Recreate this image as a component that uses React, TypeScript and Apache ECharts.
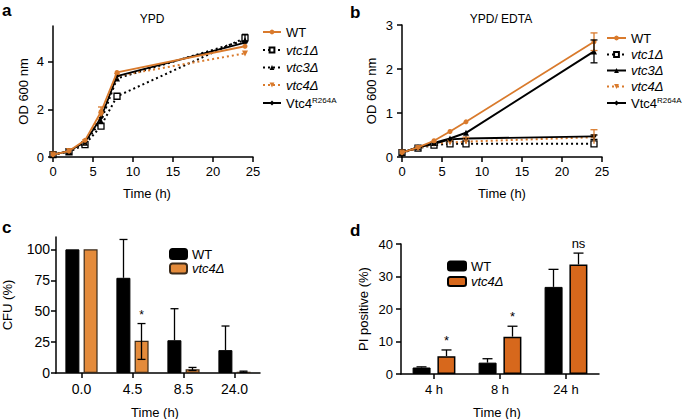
import React, { useEffect, useRef } from "react";
import * as echarts from "echarts";

// ---------- data ----------
const timeA = [0, 2, 4, 6, 8, 24];
const aWT = [0.1, 0.25, 0.7, 1.9, 3.55, 4.65];
const aVtc1 = [0.1, 0.22, 0.52, 1.3, 2.55, 5.0];
const aVtc3 = [0.1, 0.25, 0.6, 1.5, 3.3, 4.9];
const aVtc4 = [0.1, 0.25, 0.62, 1.75, 3.4, 4.35];
const aR264A = [0.1, 0.25, 0.62, 1.65, 3.4, 4.8];
const aErrWT = [[6, 1.7, 2.1]];
const aErrVtc1 = [[24, 4.85, 5.15]];

const timeB = [0, 2, 4, 6, 8, 24];
const bWT = [0.1, 0.22, 0.37, 0.58, 0.8, 2.62];
const bVtc1 = [0.1, 0.2, 0.27, 0.3, 0.3, 0.3];
const bVtc3 = [0.1, 0.22, 0.32, 0.42, 0.55, 2.4];
const bVtc4 = [0.1, 0.2, 0.3, 0.33, 0.35, 0.45];
const bR264A = [0.1, 0.22, 0.3, 0.4, 0.42, 0.47];
const bErrWT = [[24, 2.42, 2.82]];
const bErrBlack = [[24, 2.14, 2.66], [24, 0.4, 0.5]];
const bErrVtc4 = [[24, 0.3, 0.62], [8, 0.3, 0.45]];

const cCats = ["0.0", "4.5", "8.5", "24.0"];
const cWT = [100, 77, 26.5, 18.5];
const cWTHigh = [100, 108, 52, 38];
const cVtc4 = [100, 26, 3, 1];
const cVtc4Low = [100, 11, 2, 0.5];
const cVtc4High = [100, 40, 4.5, 1.5];
const cMarks = ["", "*", "", ""];

const dCats = ["4 h", "8 h", "24 h"];
const dWT = [2, 3.5, 26.8];
const dWTHigh = [2.2, 4.7, 32.2];
const dVtc4 = [5.5, 11.5, 33.7];
const dVtc4High = [7.4, 14.7, 37.2];
const dMarks = ["*", "*", "ns"];

const xTitle = "Time (h)";

// ---------- styles ----------
const FONT = "'Liberation Sans', Arial, Helvetica, sans-serif";
const ORANGE = "#D97A2C";
const ORANGE_C = "#E48B3B";
const ORANGE_D = "#D7681C";
const INV_TRI = "path://M0,0 L10,0 L5,9 Z";

function errorBars(color: string, offset: number, cap: number, both: boolean) {
  return (params: any, api: any) => {
    const x = api.value(0);
    const lo = api.value(1);
    const hi = api.value(2);
    const p1 = api.coord([x, lo]);
    const p2 = api.coord([x, hi]);
    const cx = p1[0] + offset;
    const st = { stroke: color, lineWidth: 1.3 };
    const children: any[] = [
      { type: "line", shape: { x1: cx, y1: p1[1], x2: cx, y2: p2[1] }, style: st },
      { type: "line", shape: { x1: cx - cap, y1: p2[1], x2: cx + cap, y2: p2[1] }, style: st },
    ];
    if (both) {
      children.push({ type: "line", shape: { x1: cx - cap, y1: p1[1], x2: cx + cap, y2: p1[1] }, style: st });
    }
    return { type: "group", children };
  };
}

function markText(texts: string[], offset: number, size: number) {
  return (params: any, api: any) => {
    const p = api.coord([api.value(0), api.value(1)]);
    return {
      type: "text",
      style: {
        text: texts[params.dataIndex],
        x: p[0] + offset,
        y: p[1] - 3,
        fill: "#000",
        font: `${size}px ${FONT}`,
        align: "center",
        verticalAlign: "bottom",
      },
    };
  };
}

const axisBase = {
  axisLine: { show: true, lineStyle: { color: "#000", width: 1.5 } },
  axisTick: { show: true, length: 5, lineStyle: { color: "#000", width: 1.5 } },
  axisLabel: { color: "#000", fontSize: 13, fontFamily: FONT, fontWeight: "normal", margin: 8 },
  splitLine: { show: false },
  nameMoveOverlap: false,
  nameTextStyle: { color: "#000", fontSize: 13, fontFamily: FONT, fontWeight: "normal" },
};

function lineSeries(name: string, grid: number, xs: number[], ys: number[], opts: any) {
  return {
    type: "line",
    name,
    xAxisIndex: grid,
    yAxisIndex: grid,
    data: xs.map((x, i) => [x, ys[i]]),
    symbol: opts.symbol,
    symbolSize: opts.size,
    showSymbol: true,
    lineStyle: { color: opts.color, width: opts.width ?? 1.8, type: opts.dash ?? "solid" },
    itemStyle: { color: opts.fill ?? opts.color, borderColor: opts.color, borderWidth: opts.border ?? 0 },
    z: opts.z ?? 2,
  };
}

function legendFormatter(name: string) {
  const n = name.split(":")[1];
  if (n === "WT") return "{n|WT}";
  if (n === "Vtc4R264A") return "{n|Vtc4}{s|R264A}";
  return "{i|" + n + "}";
}

const legendText = {
  color: "#000",
  fontFamily: FONT,
  fontSize: 13,
  fontWeight: "normal",
  rich: {
    n: { fontSize: 13, fontFamily: FONT, fontWeight: "normal", color: "#000", lineHeight: 14, verticalAlign: "bottom" },
    i: { fontSize: 13, fontFamily: FONT, fontWeight: "normal", color: "#000", fontStyle: "italic", lineHeight: 14 },
    s: { fontSize: 8, fontFamily: FONT, fontWeight: "normal", color: "#000", verticalAlign: "top", lineHeight: 8 },
  },
};

function panelSeries(p: string, grid: number, xs: number[], wt: number[], v1: number[], v3: number[], v4: number[], r: number[], v3Dash: any) {
  return [
    lineSeries(p + ":vtc1Δ", grid, xs, v1, { symbol: "rect", size: 6, color: "#000", fill: "#fff", border: 1.3, dash: [2, 3], width: 2 }),
    lineSeries(p + ":vtc3Δ", grid, xs, v3, { symbol: "triangle", size: 6, color: "#000", dash: v3Dash, width: 2 }),
    lineSeries(p + ":vtc4Δ", grid, xs, v4, { symbol: INV_TRI, size: 6, color: ORANGE, dash: [2, 3], width: 2 }),
    lineSeries(p + ":Vtc4R264A", grid, xs, r, { symbol: "diamond", size: 5, color: "#000", width: 1.8 }),
    lineSeries(p + ":WT", grid, xs, wt, { symbol: "circle", size: 5, color: ORANGE, width: 1.8, z: 3 }),
  ];
}

const lineLegendNames = (p: string) => [p + ":WT", p + ":vtc1Δ", p + ":vtc3Δ", p + ":vtc4Δ", p + ":Vtc4R264A"];

const titleText = (x: number, y: number, text: string, size: number) => ({
  type: "text",
  x,
  y,
  style: { text, font: `normal ${size}px ${FONT}`, fill: "#000", align: "center", verticalAlign: "middle" },
});

function buildOption(): any {
  return {
    animation: false,
    backgroundColor: "#fff",
    textStyle: { fontFamily: FONT, fontWeight: "normal" },
    grid: [
      { left: 53, top: 26, width: 200, height: 131 },
      { left: 402, top: 25, width: 200, height: 132 },
      { left: 56, top: 237, width: 204, height: 136 },
      { left: 401, top: 244, width: 198, height: 130 },
    ],
    xAxis: [
      { ...axisBase, gridIndex: 0, type: "value", min: 0, max: 25, interval: 5 },
      { ...axisBase, gridIndex: 1, type: "value", min: 0, max: 25, interval: 5 },
      { ...axisBase, gridIndex: 2, type: "category", data: cCats, axisTick: { ...axisBase.axisTick, alignWithLabel: true }, axisLabel: { ...axisBase.axisLabel, fontSize: 14, margin: 9 } },
      { ...axisBase, gridIndex: 3, type: "category", data: dCats, axisTick: { ...axisBase.axisTick, alignWithLabel: true }, axisLabel: { ...axisBase.axisLabel, margin: 9 } },
    ],
    yAxis: [
      { ...axisBase, gridIndex: 0, type: "value", min: 0, max: 5.5, axisLabel: { ...axisBase.axisLabel, margin: 9, customValues: [0, 2, 4] }, axisTick: { ...axisBase.axisTick, customValues: [0, 2, 4] }, name: "OD 600 nm", nameLocation: "middle", nameGap: 23 },
      { ...axisBase, gridIndex: 1, type: "value", min: 0, max: 3, interval: 1, axisLabel: { ...axisBase.axisLabel, margin: 9 }, name: "OD 600 nm", nameLocation: "middle", nameGap: 24 },
      { ...axisBase, gridIndex: 2, type: "value", min: 0, max: 110, axisLabel: { ...axisBase.axisLabel, fontSize: 14, margin: 6, customValues: [0, 25, 50, 75, 100] }, axisTick: { ...axisBase.axisTick, customValues: [0, 25, 50, 75, 100] }, name: "CFU (%)", nameLocation: "middle", nameGap: 42 },
      { ...axisBase, gridIndex: 3, type: "value", min: 0, max: 40, interval: 10, axisLabel: { ...axisBase.axisLabel, margin: 8 }, name: "PI positive (%)", nameLocation: "middle", nameGap: 31 },
    ],
    legend: [
      { data: lineLegendNames("a"), left: 257, top: 21, orient: "vertical", itemWidth: 18, itemHeight: 6, itemGap: 4.5, formatter: legendFormatter, textStyle: legendText, selectedMode: false },
      { data: lineLegendNames("b"), left: 601, top: 27, orient: "vertical", itemWidth: 19, itemHeight: 6, itemGap: 3, formatter: legendFormatter, textStyle: legendText, selectedMode: false },
      { data: ["c:WT", "c:vtc4Δ"], left: 164, top: 243, orient: "vertical", itemWidth: 17, itemHeight: 10, itemGap: 1, formatter: legendFormatter, textStyle: legendText, selectedMode: false },
      { data: ["d:WT", "d:vtc4Δ"], left: 442, top: 255, orient: "vertical", itemWidth: 18, itemHeight: 9, itemGap: 2, formatter: legendFormatter, textStyle: legendText, selectedMode: false },
    ],
    graphic: [
      { type: "text", left: 2, top: 2, style: { text: "a", font: `bold 17px ${FONT}`, fill: "#000" } },
      { type: "text", left: 350, top: 4, style: { text: "b", font: `bold 17px ${FONT}`, fill: "#000" } },
      { type: "text", left: 2, top: 219, style: { text: "c", font: `bold 17px ${FONT}`, fill: "#000" } },
      { type: "text", left: 350, top: 222, style: { text: "d", font: `bold 17px ${FONT}`, fill: "#000" } },
      titleText(152, 19, "YPD", 12),
      titleText(501, 19, "YPD/ EDTA", 12),
      titleText(147, 193, xTitle, 13),
      titleText(502, 193, xTitle, 13),
      titleText(155, 412, xTitle, 13),
      titleText(497, 412, xTitle, 13),
    ],
    series: [
      ...panelSeries("a", 0, timeA, aWT, aVtc1, aVtc3, aVtc4, aR264A, [2, 3]),
      { type: "custom", xAxisIndex: 0, yAxisIndex: 0, z: 4, data: aErrWT, renderItem: errorBars(ORANGE, 0, 3, false) },
      { type: "custom", xAxisIndex: 0, yAxisIndex: 0, z: 4, data: aErrVtc1, renderItem: errorBars("#000", 0, 3, true) },
      ...panelSeries("b", 1, timeB, bWT, bVtc1, bVtc3, bVtc4, bR264A, "solid"),
      { type: "custom", xAxisIndex: 1, yAxisIndex: 1, z: 4, data: bErrWT, renderItem: errorBars(ORANGE, 0, 3.5, true) },
      { type: "custom", xAxisIndex: 1, yAxisIndex: 1, z: 4, data: bErrBlack, renderItem: errorBars("#000", 0, 3.5, true) },
      { type: "custom", xAxisIndex: 1, yAxisIndex: 1, z: 4, data: bErrVtc4, renderItem: errorBars(ORANGE, 0, 3.5, false) },
      // panel c
      {
        type: "bar", name: "c:WT", xAxisIndex: 2, yAxisIndex: 2, data: cWT, barWidth: 14, barGap: "30%",
        itemStyle: { color: "#000", borderColor: "#000", borderWidth: 1 },
      },
      {
        type: "bar", name: "c:vtc4Δ", xAxisIndex: 2, yAxisIndex: 2, data: cVtc4, barWidth: 14, barGap: "30%",
        itemStyle: { color: ORANGE_C, borderColor: "#3a2a1a", borderWidth: 1.2 },
      },
      {
        type: "custom", xAxisIndex: 2, yAxisIndex: 2, z: 4,
        data: cWT.map((v, i) => [i, v, cWTHigh[i]]).filter((d) => d[2] > d[1]),
        renderItem: errorBars("#000", -9, 4, false),
      },
      {
        type: "custom", xAxisIndex: 2, yAxisIndex: 2, z: 4,
        data: cVtc4.map((v, i) => [i, cVtc4Low[i], cVtc4High[i]]).filter((d) => d[2] > d[1]),
        renderItem: errorBars("#000", 9, 4, true),
      },
      {
        type: "custom", xAxisIndex: 2, yAxisIndex: 2, z: 4,
        data: cVtc4High.map((v, i) => [i, v]),
        renderItem: markText(cMarks, 9, 12),
      },
      // panel d
      {
        type: "bar", name: "d:WT", xAxisIndex: 3, yAxisIndex: 3, data: dWT, barWidth: 18, barGap: "38%",
        itemStyle: { color: "#000", borderColor: "#000", borderWidth: 1 },
      },
      {
        type: "bar", name: "d:vtc4Δ", xAxisIndex: 3, yAxisIndex: 3, data: dVtc4, barWidth: 18, barGap: "38%",
        itemStyle: { color: ORANGE_D, borderColor: "#000", borderWidth: 1.5 },
      },
      {
        type: "custom", xAxisIndex: 3, yAxisIndex: 3, z: 4,
        data: dWT.map((v, i) => [i, v, dWTHigh[i]]),
        renderItem: errorBars("#000", -12.5, 5, false),
      },
      {
        type: "custom", xAxisIndex: 3, yAxisIndex: 3, z: 4,
        data: dVtc4.map((v, i) => [i, v, dVtc4High[i]]),
        renderItem: errorBars("#000", 12.5, 5, false),
      },
      {
        type: "custom", xAxisIndex: 3, yAxisIndex: 3, z: 4,
        data: dVtc4High.map((v, i) => [i, v]),
        renderItem: markText(dMarks, 12.5, 13),
      },
    ],
  };
}

export default function App() {
  const ref = useRef<HTMLDivElement>(null);
  useEffect(() => {
    document.body.style.margin = "0";
    if (!ref.current) return;
    const chart = echarts.init(ref.current, undefined, { renderer: "svg" });
    chart.setOption(buildOption());
    return () => chart.dispose();
  }, []);
  return <div ref={ref} style={{ position: "absolute", left: 0, top: 0, width: 685, height: 419 }} />;
}
